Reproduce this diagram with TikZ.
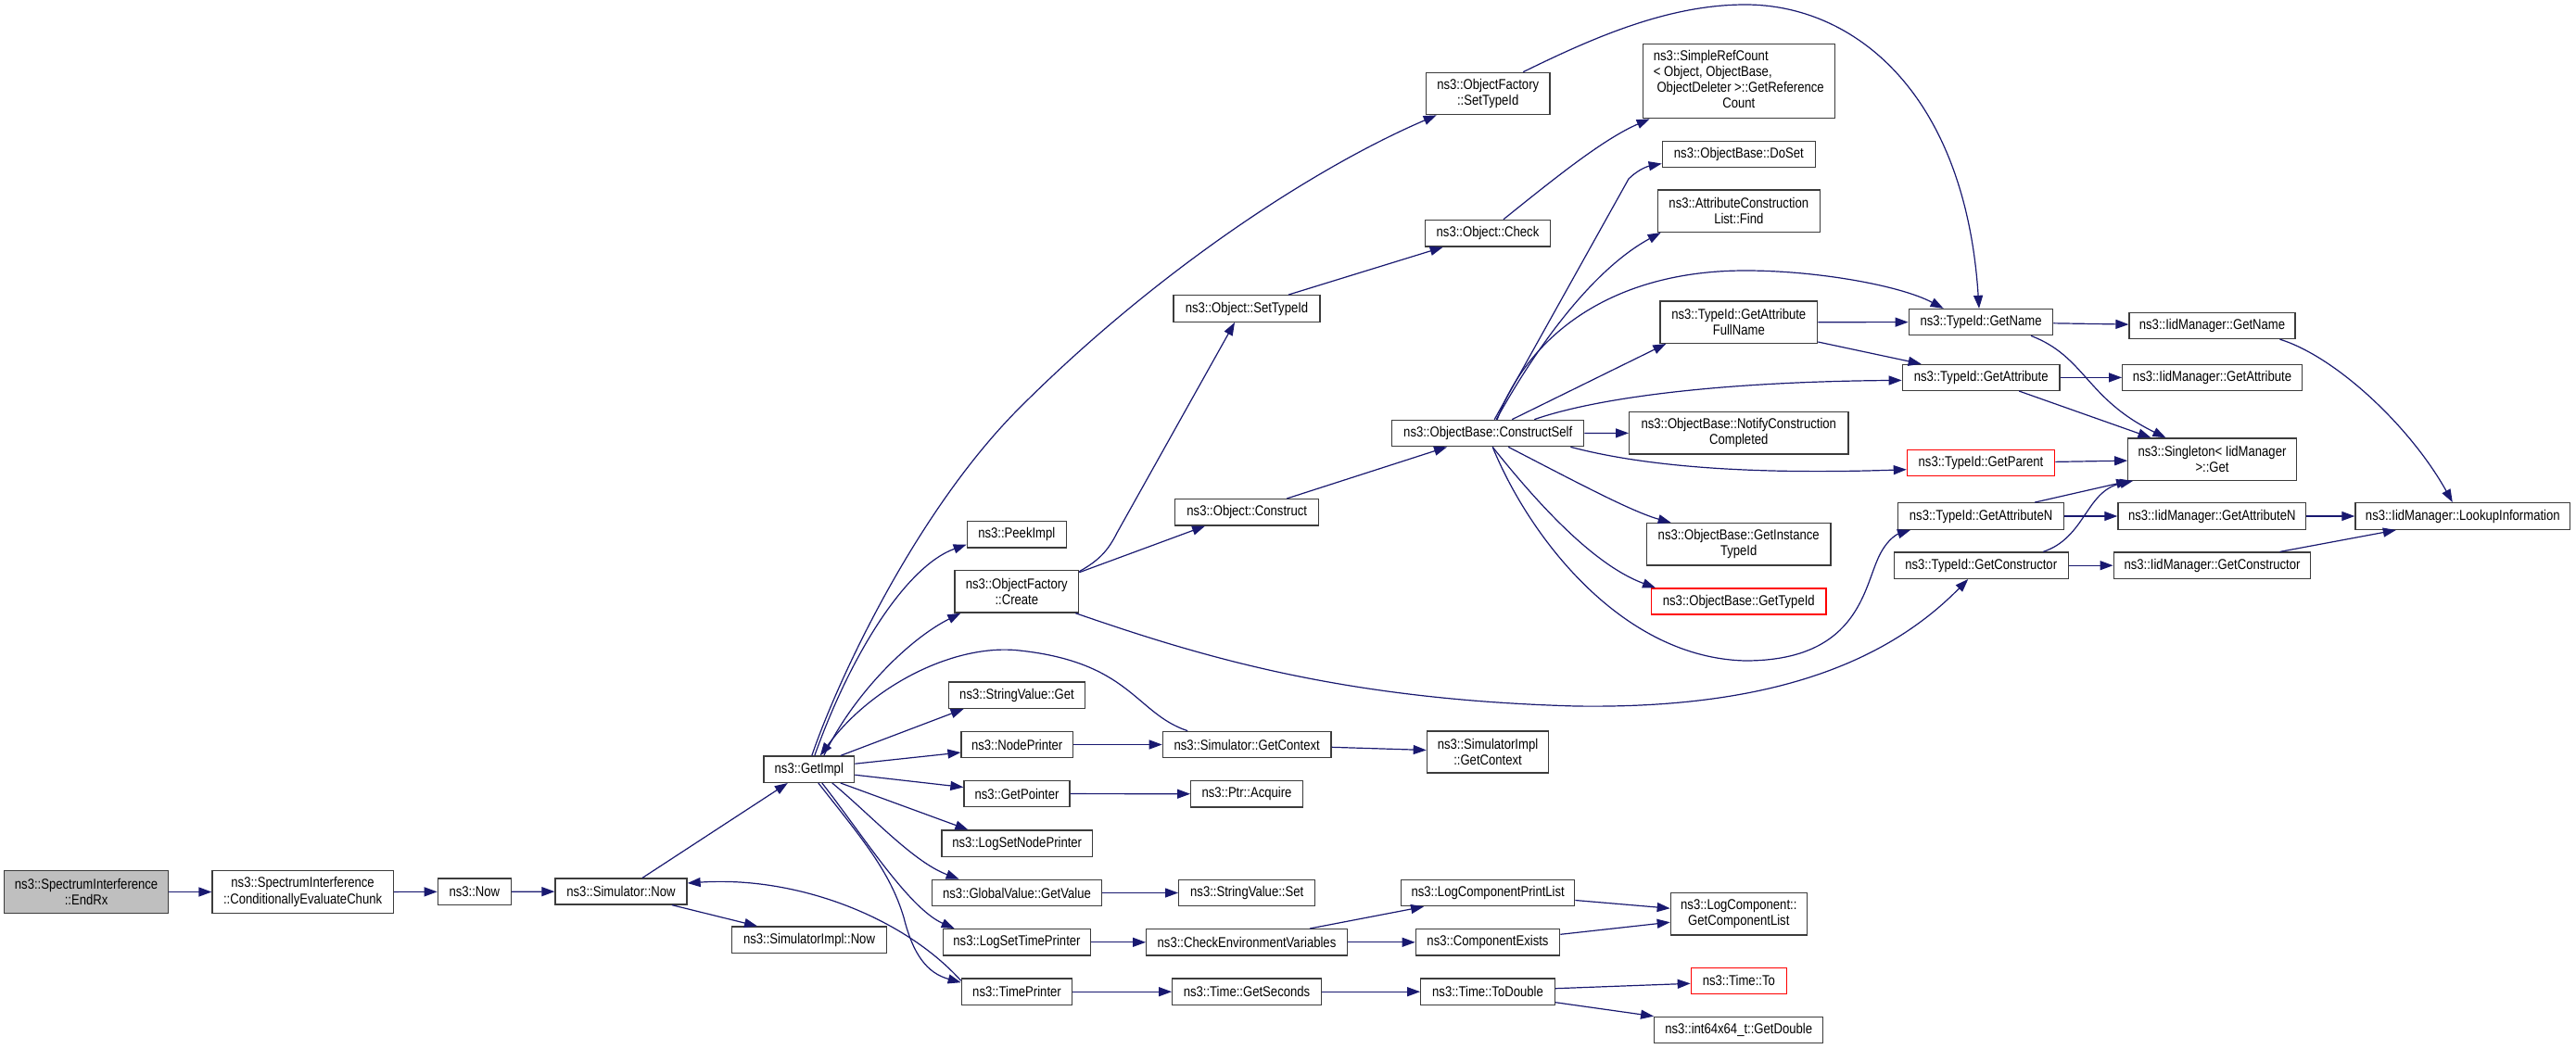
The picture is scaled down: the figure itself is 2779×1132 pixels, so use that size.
\documentclass[tikz,border=0pt]{standalone}
\usepackage{fontspec}
\setmainfont{Liberation Sans}[FakeStretch=0.845]
\usetikzlibrary{arrows.meta}
\definecolor{edgec}{RGB}{25,25,112}
\definecolor{boxc}{RGB}{60,60,60}
\definecolor{fillg}{RGB}{191,191,191}
\definecolor{redc}{RGB}{255,0,0}
\newcommand\fnt{\fontsize{15.5}{17.2}\selectfont}
\tikzset{
  fn/.style={draw=boxc, line width=1.3pt, fill=white, inner sep=0pt, align=center, font=\fnt, text=black},
  redfn/.style={fn, draw=redc},
  sz/.style 2 args={minimum width=#1pt, minimum height=#2pt},
  conn/.style={draw=edgec, line width=1.2pt, -{Triangle[length=14pt,width=10pt]}}
}
\begin{document}
\begin{tikzpicture}[x=1pt,y=-1pt]
\fill[white] (0,0) rectangle (2779,1132);
\useasboundingbox (0,0) rectangle (2779,1132);

% nodes
\node[fn, fill=fillg, sz={177.2}{46.4}] (endrx) at (93.1,962.5) {ns3::SpectrumInterference\\::EndRx};
\node[fn, sz={195.1}{46.4}] (cec) at (326.6,962.5) {ns3::SpectrumInterference\\::ConditionallyEvaluateChunk};
\node[fn, sz={79}{28.5}] (now) at (511.8,962.3) {ns3::Now};
\node[fn, sz={142}{28}] (simnow) at (670,962) {ns3::Simulator::Now};
\node[fn, sz={97.7}{28.3}] (getimpl) at (872.8,830.2) {ns3::GetImpl};
\node[fn, sz={167.4}{28.3}] (simimplnow) at (873,1014.2) {ns3::SimulatorImpl::Now};
\node[fn, sz={133.7}{45.4}] (sftid) at (1605.2,101) {ns3::ObjectFactory\\::SetTypeId};
\node[fn, sz={107}{28.3}] (peek) at (1096.8,576.8) {ns3::PeekImpl};
\node[fn, sz={133.7}{45.7}] (create) at (1096.8,638.2) {ns3::ObjectFactory\\::Create};
\node[fn, sz={147.4}{28.3}] (svget) at (1097,750.2) {ns3::StringValue::Get};
\node[fn, sz={120.3}{28.4}] (nodeprinter) at (1097.2,803.5) {ns3::NodePrinter};
\node[fn, sz={114}{28.4}] (getpointer) at (1097,856.5) {ns3::GetPointer};
\node[fn, sz={162.3}{28.3}] (logsetnode) at (1097.2,910.2) {ns3::LogSetNodePrinter};
\node[fn, sz={183.4}{28.4}] (gvget) at (1097,963.5) {ns3::GlobalValue::GetValue};
\node[fn, sz={159.4}{28.3}] (logsettime) at (1097,1016.8) {ns3::LogSetTimePrinter};
\node[fn, sz={119.4}{28.3}] (timeprinter) at (1097,1070.2) {ns3::TimePrinter};
\node[fn, sz={135.4}{28.7}] (check) at (1605,251.7) {ns3::Object::Check};
\node[fn, sz={158}{28.6}] (osettid) at (1345,333) {ns3::Object::SetTypeId};
\node[fn, sz={155}{28.3}] (construct) at (1345.2,552.8) {ns3::Object::Construct};
\node[fn, sz={207}{28.4}] (cself) at (1605.2,467.5) {ns3::ObjectBase::ConstructSelf};
\node[fn, sz={181.7}{28.4}] (simctx) at (1345.2,803.5) {ns3::Simulator::GetContext};
\node[fn, sz={131.4}{45}] (simimplctx) at (1605,811.5) {ns3::SimulatorImpl\\::GetContext};
\node[fn, sz={120.6}{28.3}] (acquire) at (1345,856.8) {ns3::Ptr::Acquire};
\node[fn, sz={147}{28.4}] (svset) at (1345.2,963.5) {ns3::StringValue::Set};
\node[fn, sz={216.6}{28.3}] (cev) at (1345,1016.8) {ns3::CheckEnvironmentVariables};
\node[fn, sz={160.6}{28.3}] (getseconds) at (1345,1070.2) {ns3::Time::GetSeconds};
\node[fn, sz={187}{28.4}] (lcpl) at (1605.2,963.5) {ns3::LogComponentPrintList};
\node[fn, sz={155.4}{28.3}] (compexists) at (1605,1016.8) {ns3::ComponentExists};
\node[fn, sz={144.6}{28.3}] (todouble) at (1605,1070.2) {ns3::Time::ToDouble};
\node[fn, sz={147}{45.7}] (getcomplist) at (1875.8,986.2) {ns3::LogComponent::\\GetComponentList};
\node[redfn, sz={103}{28}] (timeto) at (1875.8,1058.3) {ns3::Time::To};
\node[fn, sz={182}{28.4}] (getdouble) at (1875.7,1111.5) {ns3::int64x64\_t::GetDouble};
\node[fn, sz={207}{80}] (simpleref) at (1875.8,87.7) {\begin{tabular}{@{}l@{}}ns3::SimpleRefCount\\< Object, ObjectBase,\\\ ObjectDeleter >::GetReference\\\multicolumn{1}{@{}c@{}}{Count}\end{tabular}};
\node[fn, sz={165}{28.4}] (doset) at (1875.8,166.5) {ns3::ObjectBase::DoSet};
\node[fn, sz={175}{45.3}] (acfind) at (1875.8,227.7) {ns3::AttributeConstruction\\List::Find};
\node[fn, sz={169.7}{45.3}] (fullname) at (1875.8,347.7) {ns3::TypeId::GetAttribute\\FullName};
\node[fn, sz={236.3}{45.3}] (notify) at (1875.8,467.3) {ns3::ObjectBase::NotifyConstruction\\Completed};
\node[fn, sz={198.7}{45.3}] (instancetid) at (1875.7,587.3) {ns3::ObjectBase::GetInstance\\TypeId};
\node[redfn, sz={188.3}{28}] (obgettid) at (1875.8,649) {ns3::ObjectBase::GetTypeId};
\node[fn, sz={155.5}{28.2}] (getname) at (2137,347.6) {ns3::TypeId::GetName};
\node[fn, sz={169.8}{28}] (getattr) at (2137.2,407.4) {ns3::TypeId::GetAttribute};
\node[redfn, sz={159.2}{28}] (getparent) at (2137,499.7) {ns3::TypeId::GetParent};
\node[fn, sz={178.8}{28.5}] (getattrn) at (2137.1,557) {ns3::TypeId::GetAttributeN};
\node[fn, sz={187.9}{28.3}] (getctor) at (2137.2,610.2) {ns3::TypeId::GetConstructor};
\node[fn, sz={178.9}{28}] (iidgetname) at (2386.5,351.5) {ns3::IidManager::GetName};
\node[fn, sz={193.6}{28}] (iidgetattr) at (2386.5,407.4) {ns3::IidManager::GetAttribute};
\node[fn, sz={181.4}{45.2}] (singleton) at (2386.5,495.6) {ns3::Singleton< IidManager\\>::Get};
\node[fn, sz={202.7}{28.7}] (iidgetattrn) at (2386.3,557) {ns3::IidManager::GetAttributeN};
\node[fn, sz={212.6}{28.3}] (iidgetctor) at (2386.5,610.2) {ns3::IidManager::GetConstructor};
\node[fn, sz={231.7}{28.7}] (lookup) at (2656.8,557) {ns3::IidManager::LookupInformation};

% connectors
\draw[conn] (endrx) -- (cec);
\draw[conn] (cec) -- (now);
\draw[conn] (now) -- (simnow);
\draw[conn] ([xshift=23pt]simnow.north) -- ([xshift=-23pt]getimpl.south);
\draw[conn] ([xshift=55pt]simnow.south) -- ([xshift=-56pt]simimplnow.north);
\draw[conn] ([yshift=12pt]timeprinter.west) .. controls (975,990) and (860,945) .. ([yshift=9pt]simnow.east);
\draw[conn] ([xshift=3pt]getimpl.north) .. controls (905,730) and (990,550) .. (1100,440) .. controls (1250,290) and (1420,180) .. ([xshift=12pt]sftid.south west);
\draw[conn] ([xshift=6pt]getimpl.north) .. controls (920,700) and (980,610) .. ([yshift=4pt]peek.south west);
\draw[conn] ([xshift=16pt]getimpl.north) .. controls (920,750) and (980,690) .. ([xshift=7pt]create.south west);
\draw[conn] ([xshift=-64pt]simctx.north) .. controls (1225,770) and (1220,715) .. (1100,702) .. controls (1030,694) and (940,740) .. ([xshift=12pt]getimpl.north);
\draw[conn] ([xshift=34pt]getimpl.north) -- ([xshift=17pt]svget.south west);
\draw[conn] ([yshift=6pt]getimpl.east) -- ([yshift=-8.5pt]nodeprinter.west);
\draw[conn] ([yshift=-6pt]getimpl.east) -- ([yshift=7pt]getpointer.west);
\draw[conn] ([xshift=34pt]getimpl.south) -- ([xshift=29pt]logsetnode.north west);
\draw[conn] ([xshift=25pt]getimpl.south) .. controls (940,880) and (985,930) .. ([xshift=30pt]gvget.north west);
\draw[conn] ([xshift=14pt]getimpl.south) .. controls (930,900) and (980,980) .. ([xshift=13pt]logsettime.north west);
\draw[conn] ([xshift=10pt]getimpl.south) .. controls (930,905) and (960,940) .. (975,990) .. controls (985,1030) and (1000,1050) .. ([yshift=10pt]timeprinter.west);
\draw[conn] ([yshift=-2pt]create.north east) .. controls (1185,605) and (1195,595) .. (1205,575) -- ([xshift=-13pt]osettid.south);
\draw[conn] ([yshift=-3pt]create.north east) -- ([xshift=33pt]construct.south west);
\draw[conn] ([xshift=-4pt]create.south east) .. controls (1300,710) and (1450,755) .. (1700,762) .. controls (1900,765) and (2030,720) .. ([xshift=-14pt]getctor.south);
\draw[conn] ([xshift=45pt]osettid.north) -- ([xshift=20pt]check.south west);
\draw[conn] ([xshift=17pt]check.north) .. controls (1680,190) and (1730,150) .. ([xshift=8pt]simpleref.south west);
\draw[conn] ([xshift=43pt]construct.north) -- ([xshift=60pt]cself.south west);
\draw[conn] ([xshift=38pt]sftid.north) .. controls (1720,40) and (1800,5) .. (1883,5) .. controls (2000,5) and (2120,100) .. ([xshift=-2pt]getname.north);
\draw[conn] ([xshift=7pt]cself.north) -- (1757,193) .. controls (1765,185) and (1775,180) .. ([yshift=-10pt]doset.west);
\draw[conn] ([xshift=9pt]cself.north) .. controls (1660,370) and (1720,290) .. ([xshift=4pt]acfind.south west);
\draw[conn] ([xshift=10pt]cself.north) .. controls (1645,370) and (1730,292) .. (1883,292) .. controls (1960,292) and (2050,308) .. ([xshift=38pt]getname.north west);
\draw[conn] ([xshift=26pt]cself.north) -- ([xshift=7pt]fullname.south west);
\draw[conn] (fullname) -- (getname);
\draw[conn] ([yshift=2pt]fullname.south east) -- ([xshift=21pt]getattr.north west);
\draw[conn] ([xshift=50pt]cself.north) .. controls (1720,430) and (1850,412) .. ([yshift=-3pt]getattr.west);
\draw[conn] (cself) -- (notify);
\draw[conn] ([xshift=-15pt]cself.south east) .. controls (1780,505) and (1900,512) .. ([yshift=-7pt]getparent.west);
\draw[conn] ([xshift=22pt]cself.south) .. controls (1700,520) and (1760,552) .. ([xshift=27pt]instancetid.north west);
\draw[conn] ([xshift=5pt]cself.south) .. controls (1660,545) and (1720,610) .. ([xshift=5pt]obgettid.north west);
\draw[conn] ([xshift=5pt]cself.south) .. controls (1650,580) and (1750,710) .. (1883,713) .. controls (2000,713) and (2010,640) .. (2025,605) .. controls (2033,585) and (2045,577) .. ([xshift=14pt]getattrn.south west);
\draw[conn] (getname) -- (iidgetname);
\draw[conn] ([xshift=54pt]getname.south) .. controls (2250,385) and (2250,430) .. ([xshift=-50pt]singleton.north);
\draw[conn] (getattr) -- (iidgetattr);
\draw[conn] ([xshift=41pt]getattr.south) -- ([xshift=-66pt]singleton.north);
\draw[conn] (getparent) -- (singleton);
\draw[conn] ([xshift=58pt]getattrn.north) -- ([xshift=2pt]singleton.south west);
\draw[conn] (getattrn) -- (iidgetattrn);
\draw[conn] ([xshift=67pt]getctor.north) .. controls (2250,580) and (2250,530) .. ([xshift=6pt]singleton.south west);
\draw[conn] (getctor) -- (iidgetctor);
\draw[conn] ([xshift=73pt]iidgetname.south) .. controls (2520,385) and (2600,460) .. ([xshift=-11pt]lookup.north);
\draw[conn] (iidgetattrn) -- (lookup);
\draw[conn] ([xshift=73pt]iidgetctor.north) -- ([xshift=-72pt]lookup.south);
\draw[conn] (nodeprinter) -- (simctx);
\draw[conn] (getpointer) -- (acquire);
\draw[conn] (gvget) -- (svset);
\draw[conn] (logsettime) -- (cev);
\draw[conn] (timeprinter) -- (getseconds);
\draw[conn] (simctx) -- (simimplctx);
\draw[conn] ([xshift=68pt]cev.north) -- ([xshift=25pt]lcpl.south west);
\draw[conn] (cev) -- (compexists);
\draw[conn] (getseconds) -- (todouble);
\draw[conn] ([yshift=-8pt]lcpl.east) -- ([yshift=6pt]getcomplist.west);
\draw[conn] ([yshift=8.5pt]compexists.east) -- ([yshift=-9pt]getcomplist.west);
\draw[conn] ([yshift=3.5pt]todouble.east) -- ([yshift=-3pt]timeto.west);
\draw[conn] ([yshift=-11.5pt]todouble.east) -- (getdouble.north west);
\end{tikzpicture}
\end{document}
